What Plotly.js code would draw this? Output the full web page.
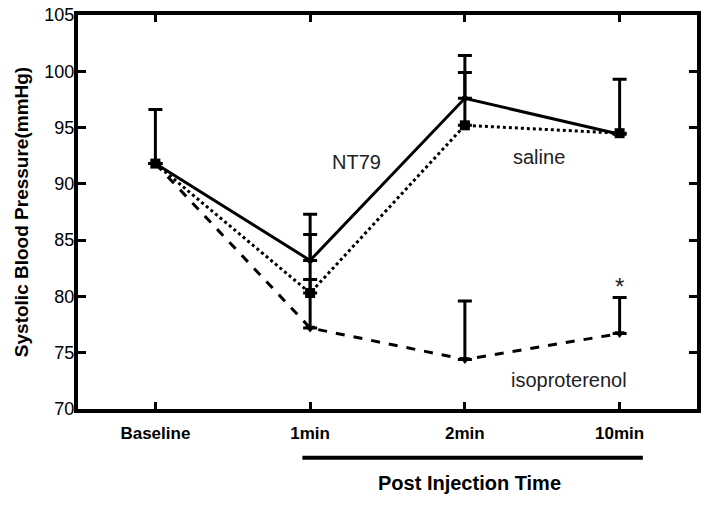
<!DOCTYPE html>
<html>
<head>
<meta charset="utf-8">
<script src="https://cdn.plot.ly/plotly-3.0.1.min.js"></script>
<style>
  html, body {margin: 0; padding: 0; background: #fff;}
  #chart {width: 709px; height: 505px;}
</style>
</head>
<body>
<div id="chart"></div>
<script>
const timePoints = ['Baseline', '1min', '2min', '10min']

const nt79Mean = [91.8, 83.2, 97.6, 94.4]
const nt79Err = [0, 4.1, 3.8, 0]

const salineMean = [91.8, 80.3, 95.2, 94.5]
const salineErr = [4.8, 5.2, 4.7, 4.8]

const isoMean = [91.8, 77.2, 74.4, 76.7]
const isoErr = [0, 4.3, 5.2, 3.2]

const font = 'Arial, "Liberation Sans", sans-serif'

function series (y, err, dash, symbol, size, name) {
  return {
    x: timePoints,
    y,
    name,
    mode: 'lines+markers',
    line: {color: '#000', width: 3, dash},
    marker: {color: '#000', symbol, size},
    error_y: {
      type: 'data',
      symmetric: false,
      array: err,
      arrayminus: err.map(() => 0),
      color: '#000',
      thickness: 3,
      width: 7
    }
  }
}

const traces = [
  series(isoMean, isoErr, 'dash', 'triangle-down', 9, 'isoproterenol'),
  series(salineMean, salineErr, 'dot', 'square', 10, 'saline'),
  series(nt79Mean, nt79Err, 'solid', 'circle', 6, 'NT79')
]

const label = (x, y, text) => ({
  x, y, text, xref: 'x', yref: 'y', showarrow: false,
  font: {family: font, size: 20, color: '#222'}
})

const layout = {
  width: 709,
  height: 505,
  margin: {l: 78, r: 12, t: 15, b: 96},
  showlegend: false,
  paper_bgcolor: '#fff',
  plot_bgcolor: '#fff',
  font: {family: font, color: '#000'},
  xaxis: {
    type: 'category',
    range: [-0.5, 3.5],
    showgrid: false,
    zeroline: false,
    showline: true,
    linewidth: 4,
    linecolor: '#000',
    mirror: 'ticks',
    ticks: 'inside',
    ticklen: 7,
    tickwidth: 3,
    tickcolor: '#000',
    ticklabelstandoff: 6,
    tickfont: {family: font, size: 17, weight: 'bold'}
  },
  yaxis: {
    range: [70, 105],
    tickvals: [70, 75, 80, 85, 90, 95, 100, 105],
    showgrid: false,
    zeroline: false,
    showline: true,
    linewidth: 4,
    linecolor: '#000',
    mirror: 'ticks',
    ticks: 'inside',
    ticklen: 8,
    tickwidth: 3,
    tickcolor: '#000',
    ticklabelstandoff: -4,
    tickfont: {family: font, size: 18},
    title: {text: 'Systolic Blood Pressure(mmHg)', font: {family: font, size: 19, weight: 'bold'}, standoff: 12}
  },
  annotations: [
    label(1.3, 91.9, 'NT79'),
    label(2.48, 92.4, 'saline'),
    label(2.67, 72.6, 'isoproterenol'),
    {x: 3, y: 80.9, text: '*', xref: 'x', yref: 'y', showarrow: false,
      font: {family: font, size: 24, color: '#222'}},
    {x: 2.03, y: -0.188, text: 'Post Injection Time', xref: 'x', yref: 'paper',
      xanchor: 'center', yanchor: 'middle', showarrow: false,
      font: {family: font, size: 20, weight: 'bold', color: '#000'}}
  ],
  shapes: [{
    type: 'line', xref: 'x', yref: 'paper',
    x0: 0.95, x1: 3.15, y0: -0.124, y1: -0.124,
    line: {color: '#000', width: 4}
  }]
}

Plotly.newPlot('chart', traces, layout, {displayModeBar: false, staticPlot: true})
</script>
</body>
</html>
